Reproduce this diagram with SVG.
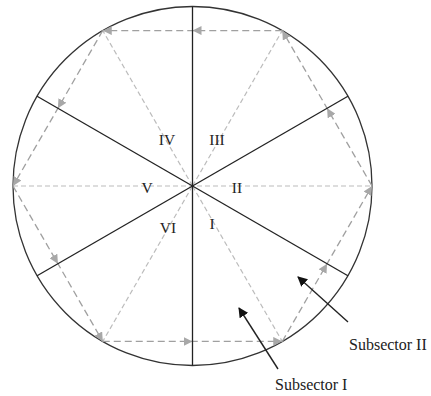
<svg xmlns="http://www.w3.org/2000/svg" width="431" height="396" viewBox="0 0 431 396">
<style>
.hex{fill:none;stroke:#a0a0a0;stroke-width:1.3;stroke-dasharray:7,4;marker-mid:url(#ga);marker-end:url(#ga)}
.ray{fill:none;stroke:#bcbcbc;stroke-width:1.2;stroke-dasharray:5,3}
.sp{stroke:#222;stroke-width:1.3}
.lab{font-family:"Liberation Serif",serif;font-size:15.5px;fill:#222;text-anchor:middle}
.sub{font-family:"Liberation Serif",serif;font-size:16px;fill:#222}
.blk{stroke:#222;stroke-width:1.4;marker-end:url(#ba)}
</style>
<defs>
<marker id="ga" viewBox="0 0 10 10" refX="10" refY="5" markerWidth="9" markerHeight="9" markerUnits="userSpaceOnUse" orient="auto"><path d="M0,0 L10,5 L0,10 z" fill="#a8a8a8"/></marker>
<marker id="ba" viewBox="0 0 10 10" refX="9" refY="5" markerWidth="10" markerHeight="10" markerUnits="userSpaceOnUse" orient="auto"><path d="M0,0 L10,5 L0,10 z" fill="#111"/></marker>
</defs>
<g id="circle"><circle cx="192.5" cy="186" r="179.5" fill="none" stroke="#333" stroke-width="1.3"/></g>
<g id="connectors">
<path class="ray" d="M13,186 H372"/>
<path class="ray" d="M192.5,186 L102.75,30.55 M192.5,186 L282.25,30.55 M192.5,186 L102.75,341.45 M192.5,186 L282.25,341.45"/>
<path class="hex" d="M102.75,341.45 L192.5,341.45 L282.25,341.45"/>
<path class="hex" d="M282.25,341.45 L327.1,263.7 L372,186"/>
<path class="hex" d="M372,186 L327.1,108.3 L282.25,30.55"/>
<path class="hex" d="M282.25,30.55 L192.5,30.55 L102.75,30.55"/>
<path class="hex" d="M102.75,30.55 L57.9,108.3 L13,186"/>
<path class="hex" d="M13,186 L57.9,263.7 L102.75,341.45"/>
<line class="sp" x1="192.5" y1="6.5" x2="192.5" y2="365.5"/>
<line class="sp" x1="37.1" y1="96.25" x2="347.9" y2="275.75"/>
<line class="sp" x1="37.1" y1="275.75" x2="347.9" y2="96.25"/>
<line class="blk" x1="278" y1="369" x2="239" y2="308"/>
<line class="blk" x1="348" y1="322" x2="298" y2="277"/>
</g>
<g id="labels">
<text class="lab" x="167" y="145">IV</text>
<text class="lab" x="217" y="145">III</text>
<text class="lab" x="147" y="193">V</text>
<text class="lab" x="237" y="193">II</text>
<text class="lab" x="168" y="233">VI</text>
<text class="lab" x="212" y="229">I</text>
<text class="sub" x="349" y="350">Subsector II</text>
<text class="sub" x="275" y="390">Subsector I</text>
</g>
</svg>
